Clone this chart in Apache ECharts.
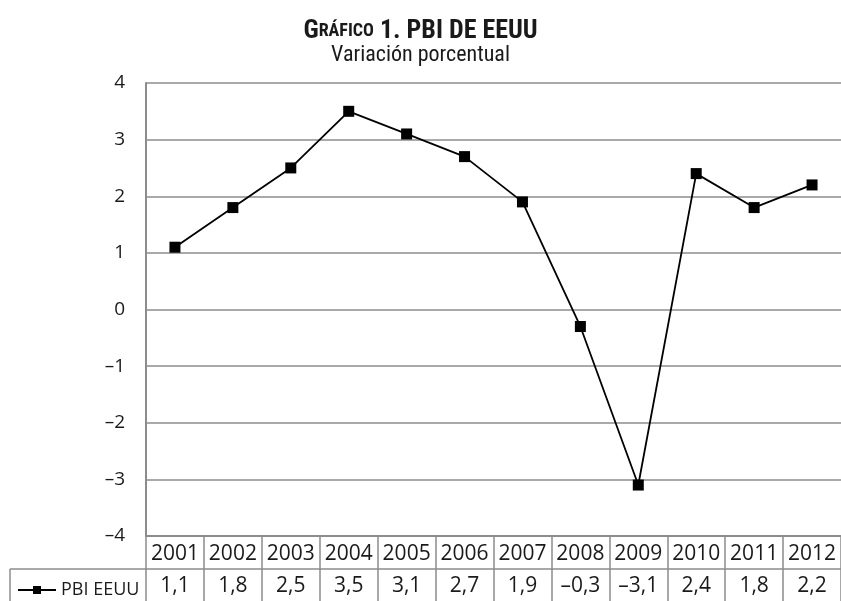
<!DOCTYPE html>
<html>
<head>
<meta charset="utf-8">
<script src="https://cdn.jsdelivr.net/npm/echarts@6/dist/echarts.min.js"></script>
<style>
  html, body { margin: 0; padding: 0; background: #fff; }
  #main { width: 841px; height: 601px; }
</style>
</head>
<body>
<div id="main"></div>
<script>
// datos
var years = ['2001', '2002', '2003', '2004', '2005', '2006', '2007', '2008', '2009', '2010', '2011', '2012'];
var pbi = [1.1, 1.8, 2.5, 3.5, 3.1, 2.7, 1.9, -0.3, -3.1, 2.4, 1.8, 2.2];
var yMin = -4, yMax = 4, yStep = 1;

var gray = '#8c8c8c';
var txt = '#1a1a1a';
var sans = "'Open Sans', 'Noto Sans', sans-serif";
var narrow = "'Liberation Sans Narrow', 'Roboto Condensed', 'DejaVu Sans Condensed', 'Roboto', sans-serif";

// 1,1 / –0,3
function fmt(v) {
  var s = Math.abs(v).toFixed(1).replace('.', ',');
  return v < 0 ? '\u2013' + s : s;
}

var chart = echarts.init(document.getElementById('main'));

var option = {
  backgroundColor: '#fff',
  animation: false,
  title: {
    text: '{a|G}{b|RÁFICO}{a| 1. PBI DE EEUU}',
    subtext: 'Variación porcentual',
    left: 'center',
    top: 13,
    itemGap: 0,
    textStyle: {
      rich: {
        a: { fontFamily: narrow, fontWeight: 'bold', fontSize: 26, color: txt },
        b: { fontFamily: narrow, fontWeight: 'bold', fontSize: 18, color: txt }
      }
    },
    subtextStyle: { fontFamily: narrow, fontSize: 22, color: txt }
  },
  legend: {
    data: ['PBI EEUU'],
    left: 12,
    top: 576,
    itemWidth: 38,
    itemHeight: 10,
    itemGap: 4,
    textStyle: { fontFamily: sans, fontSize: 18, color: txt }
  },
  grid: {
    left: 146,
    top: 83,
    width: 701,
    height: 453
  },
  xAxis: [
    {
      type: 'category',
      data: years,
      position: 'bottom',
      axisLine: { onZero: false, lineStyle: { color: gray, width: 2 } },
      axisTick: { show: true, inside: false, interval: 0, length: 33, lineStyle: { color: gray, width: 1.5 } },
      axisLabel: { interval: 0, margin: 8, fontFamily: sans, fontSize: 21, lineHeight: 21, color: txt }
    },
    {
      // fila de valores de la tabla
      type: 'category',
      data: pbi.map(fmt),
      position: 'bottom',
      offset: 33,
      axisLine: { onZero: false, lineStyle: { color: gray, width: 1.5 } },
      axisTick: { show: true, inside: false, interval: 0, length: 33, lineStyle: { color: gray, width: 1.5 } },
      axisLabel: { interval: 0, margin: 7, fontFamily: sans, fontSize: 21, lineHeight: 21, color: txt }
    }
  ],
  yAxis: {
    type: 'value',
    min: yMin,
    max: yMax,
    interval: yStep,
    axisLine: { show: true, lineStyle: { color: gray, width: 2 } },
    axisTick: { show: false },
    splitLine: { lineStyle: { color: gray, width: 1.5 } },
    axisLabel: {
      margin: 21,
      fontFamily: sans,
      fontSize: 19,
      color: txt,
      formatter: function (v) { return v < 0 ? '\u2013' + Math.abs(v) : String(v); }
    }
  },
  graphic: [
    { type: 'line', shape: { x1: 10, y1: 569, x2: 146, y2: 569 }, style: { stroke: gray, lineWidth: 1.5 } },
    { type: 'line', shape: { x1: 10, y1: 569, x2: 10, y2: 601 }, style: { stroke: gray, lineWidth: 1.5 } }
  ],
  series: [
    {
      name: 'PBI EEUU',
      type: 'line',
      data: pbi,
      xAxisIndex: 0,
      symbol: 'rect',
      symbolSize: 11,
      lineStyle: { color: '#000', width: 1.8 },
      itemStyle: { color: '#000' }
    }
  ]
};

chart.setOption(option);
</script>
</body>
</html>
